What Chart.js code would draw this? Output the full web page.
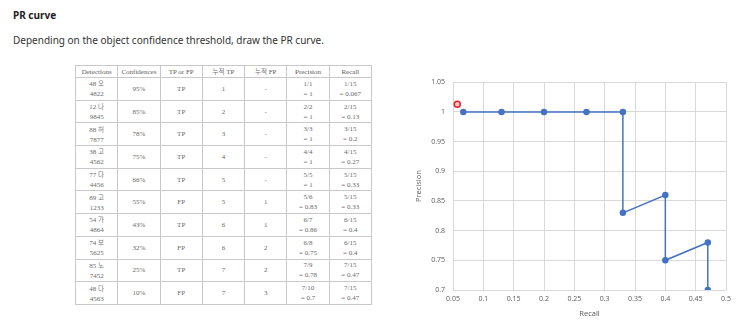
<!DOCTYPE html>
<html>
<head>
<meta charset="utf-8">
<script src="https://cdn.jsdelivr.net/npm/chart.js@4.4.1/dist/chart.umd.min.js"></script>
<style>
    html, body { margin: 0; padding: 0; background: #fff; }
    body { width: 746px; height: 322px; position: relative; overflow: hidden; font-family: "Noto Sans", sans-serif; }
    .title { position: absolute; left: 13px; top: 8px; font-size: 10px; font-weight: bold; color: #222; }
    .desc { position: absolute; left: 13px; top: 33px; font-size: 10px; color: #333; }
    #prTable { position: absolute; left: 75px; top: 65px; width: 297px; border-collapse: collapse; table-layout: fixed;
        font-family: "Liberation Serif", "Noto Sans CJK KR", serif; font-size: 7px; color: #6a6a6a; }
    #prTable th, #prTable td { border: 1px solid #c9c9c9; text-align: center; padding: 0; line-height: 10px; font-weight: normal; }
    #prTable th { height: 11px; color: #5e5e5e; }
    #prTable td { height: 21.7px; }
    .ko { font-family: "Noto Sans CJK KR", sans-serif; font-size: 6.5px; line-height: 10px; color: #777; }
    .chart-box { position: absolute; left: 410px; top: 70px; width: 336px; height: 252px; }
</style>
</head>
<body>
<div class="title">PR curve</div>
<div class="desc">Depending on the object confidence threshold, draw the PR curve.</div>
<table id="prTable"></table>
<div class="chart-box"><canvas id="prChart"></canvas></div>

<script>
const headers = ['Detections', 'Confidences', 'TP or FP', '누적 TP', '누적 FP', 'Precision', 'Recall'];
const detections = ['48 오|4822', '12 나|9845', '88 허|7877', '38 고|4562', '77 다|4456',
    '89 고|1233', '54 가|4864', '74 보|5625', '85 노|7452', '48 다|4563'];
const confidences = ['95%', '85%', '78%', '75%', '66%', '55%', '43%', '32%', '25%', '10%'];
const tpOrFp = ['TP', 'TP', 'TP', 'TP', 'TP', 'FP', 'TP', 'FP', 'TP', 'FP'];
const cumTP = [1, 2, 3, 4, 5, 5, 6, 6, 7, 7];
const cumFP = ['-', '-', '-', '-', '-', 1, 1, 2, 2, 3];
const precisionFrac = ['1/1', '2/2', '3/3', '4/4', '5/5', '5/6', '6/7', '6/8', '7/9', '7/10'];
const precision = [1, 1, 1, 1, 1, 0.83, 0.86, 0.75, 0.78, 0.7];
const recallFrac = ['1/15', '2/15', '3/15', '4/15', '5/15', '5/15', '6/15', '6/15', '7/15', '7/15'];
const recall = [0.067, 0.13, 0.2, 0.27, 0.33, 0.33, 0.4, 0.4, 0.47, 0.47];

// red cursor marker near the top-left of the plot
const markerPoint = [{ x: 0.057, y: 1.013 }];

const xTicks = [0.05, 0.1, 0.15, 0.2, 0.25, 0.3, 0.35, 0.4, 0.45, 0.5];
const yTicks = [0.7, 0.75, 0.8, 0.85, 0.9, 0.95, 1, 1.05];

// wrap hangul in its own span so the CJK font is picked explicitly
function ko(text) {
    return text.replace(/([\uac00-\ud7a3]+)/g, '<span class="ko">$1</span>');
}

function buildTable() {
    const table = document.getElementById('prTable');
    let html = '<tr>' + headers.map(h => `<th>${ko(h)}</th>`).join('') + '</tr>';
    for (let i = 0; i < detections.length; i++) {
        const [d1, d2] = detections[i].split('|');
        html += '<tr>' +
            `<td>${ko(d1)}<br>${d2}</td>` +
            `<td>${confidences[i]}</td>` +
            `<td>${tpOrFp[i]}</td>` +
            `<td>${cumTP[i]}</td>` +
            `<td>${cumFP[i]}</td>` +
            `<td>${precisionFrac[i]}<br>= ${precision[i]}</td>` +
            `<td>${recallFrac[i]}<br>= ${recall[i]}</td>` +
            '</tr>';
    }
    table.innerHTML = html;
}

function fmt(v) {
    return String(Number(v.toFixed(2)));
}

function buildChart() {
    const ctx = document.getElementById('prChart').getContext('2d');
    const points = recall.map((r, i) => ({ x: r, y: precision[i] }));
    new Chart(ctx, {
        type: 'scatter',
        data: {
            datasets: [
                {
                    label: 'PR',
                    data: points,
                    showLine: true,
                    borderColor: '#4472c4',
                    backgroundColor: '#4472c4',
                    borderWidth: 1.5,
                    pointRadius: 2.5,
                    pointHoverRadius: 2.5
                },
                {
                    label: 'marker',
                    data: markerPoint,
                    borderColor: '#e8222a',
                    backgroundColor: 'rgba(255, 190, 190, 0.9)',
                    borderWidth: 1.5,
                    pointRadius: 3
                }
            ]
        },
        options: {
            responsive: true,
            maintainAspectRatio: false,
            animation: false,
            layout: { padding: { top: 11, right: 20, left: 0, bottom: 0 } },
            plugins: { legend: { display: false }, tooltip: { enabled: false } },
            scales: {
                x: {
                    type: 'linear',
                    min: 0.05,
                    max: 0.5,
                    afterBuildTicks: axis => { axis.ticks = xTicks.map(v => ({ value: v })); },
                    afterFit: axis => { axis.height = 32; },
                    grid: { color: '#d9d9d9', drawTicks: false },
                    border: { display: false },
                    ticks: { color: '#595959', font: { size: 7, family: 'Open Sans' }, padding: 5, maxRotation: 0, callback: v => fmt(v) },
                    title: { display: true, text: 'Recall', color: '#595959', font: { size: 7.5, family: 'Open Sans' }, padding: { top: 2 } }
                },
                y: {
                    min: 0.7,
                    max: 1.05,
                    afterBuildTicks: axis => { axis.ticks = yTicks.map(v => ({ value: v })); },
                    afterFit: axis => { axis.width = 43; },
                    grid: { color: '#d9d9d9', drawTicks: false },
                    border: { display: false },
                    ticks: { color: '#595959', font: { size: 7, family: 'Open Sans' }, padding: 8, callback: v => fmt(v) },
                    title: { display: true, text: 'Precision', color: '#595959', font: { size: 7.5, family: 'Open Sans' }, padding: { bottom: 8 } }
                }
            }
        }
    });
}

buildTable();
buildChart();
</script>
</body>
</html>
